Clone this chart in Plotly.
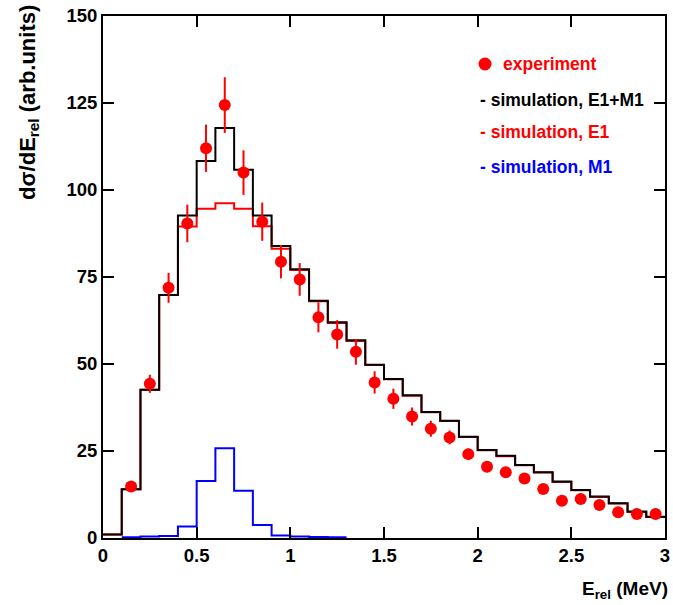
import plotly.graph_objects as go

# ---- data ----
bin_edges = [round(i * 0.1, 1) for i in range(31)]  # 0.0 .. 3.0 MeV

sim_e1m1 = [1.0, 14.0, 42.6, 69.8, 92.7, 108.3, 117.8, 105.8, 92.7, 83.9,
            77.2, 68.2, 62.0, 56.8, 49.8, 45.7, 41.0, 36.2, 33.7, 29.1,
            25.3, 23.6, 21.0, 18.9, 16.2, 13.8, 11.9, 10.0, 7.6, 6.1]
sim_e1 = [1.0, 14.0, 42.6, 69.8, 89.5, 94.6, 96.2, 94.6, 89.6, 83.1,
          77.0, 68.0, 61.8, 56.6, 49.7, 45.6, 40.9, 36.1, 33.6, 29.0,
          25.2, 23.5, 20.9, 18.8, 16.1, 13.7, 11.8, 9.9, 7.5, 6.0]
m1_edges = [0.1, 0.2, 0.3, 0.4, 0.5, 0.6, 0.7, 0.8, 0.9, 1.0, 1.1, 1.2, 1.3]
sim_m1 = [0.2, 0.4, 0.6, 3.3, 16.4, 25.8, 13.6, 3.7, 0.7, 0.4, 0.3, 0.2]

exp_x = [0.15, 0.25, 0.35, 0.45, 0.55, 0.65, 0.75, 0.85, 0.95, 1.05,
         1.15, 1.25, 1.35, 1.45, 1.55, 1.65, 1.75, 1.85, 1.95, 2.05,
         2.15, 2.25, 2.35, 2.45, 2.55, 2.65, 2.75, 2.85, 2.95]
exp_y = [14.8, 44.3, 71.9, 90.4, 112.0, 124.4, 105.0, 90.9, 79.4, 74.3,
         63.4, 58.5, 53.5, 44.7, 40.0, 34.9, 31.4, 28.9, 24.1, 20.5,
         18.9, 17.1, 14.1, 10.7, 11.2, 9.5, 7.4, 6.9, 6.9]
exp_err = [1.5, 2.6, 4.3, 5.4, 6.8, 8.0, 6.4, 5.5, 4.8, 4.7,
           4.3, 4.1, 3.7, 3.2, 2.9, 2.6, 2.3, 2.0, 1.6, 1.4,
           1.3, 1.2, 1.0, 0.9, 0.9, 0.8, 0.7, 0.6, 0.6]

x_ticks = [0, 0.5, 1, 1.5, 2, 2.5, 3]
x_tick_text = ["0", "0.5", "1", "1.5", "2", "2.5", "3"]
y_ticks = [0, 25, 50, 75, 100, 125, 150]

legend_labels = ["experiment", "- simulation, E1+M1", "- simulation, E1", "- simulation, M1"]

FONT = "Liberation Sans, Arial, sans-serif"
RED = "#ff0000"
BLUE = "#0000ff"


def step(edges, vals):
    return list(edges), list(vals) + [vals[-1]]


fig = go.Figure()

xs, ys = step(bin_edges, sim_e1)
fig.add_trace(go.Scatter(x=xs, y=ys, mode="lines", line=dict(color=RED, width=2, shape="hv"),
                         showlegend=False, hoverinfo="skip"))
xs, ys = step(m1_edges, sim_m1)
fig.add_trace(go.Scatter(x=xs, y=ys, mode="lines", line=dict(color=BLUE, width=2, shape="hv"),
                         showlegend=False, hoverinfo="skip"))
xs, ys = step(bin_edges, sim_e1m1)
fig.add_trace(go.Scatter(x=xs, y=ys, mode="lines", line=dict(color="black", width=2, shape="hv"),
                         showlegend=False, hoverinfo="skip"))
fig.add_trace(go.Scatter(x=exp_x, y=exp_y, mode="markers",
                         marker=dict(color=RED, size=12, line=dict(width=0)),
                         error_y=dict(type="data", array=exp_err, color=RED, thickness=2, width=0),
                         showlegend=False))

axis_common = dict(showgrid=False, zeroline=False, showline=True, linecolor="black", linewidth=2,
                   mirror="allticks", ticks="inside", ticklen=11, tickwidth=2, tickcolor="black",
                   ticklabeloverflow="allow", automargin=False,
                   tickfont=dict(family=FONT, size=18.5, color="black", weight="bold"))

fig.update_xaxes(range=[0, 3], tickvals=x_ticks, ticktext=x_tick_text, **axis_common)
fig.update_yaxes(range=[0, 150], tickvals=y_ticks, **axis_common)

# Axis titles as annotations (positioned like the original)
fig.add_annotation(text="<b>dσ/dE<sub>rel</sub> (arb.units)</b>", xref="paper", yref="paper",
                   x=-0.133, y=0.834, xanchor="center", yanchor="middle", textangle=-90,
                   showarrow=False, font=dict(family=FONT, size=22, color="black"))
fig.add_annotation(text="<b>E<sub>rel</sub> (MeV)</b>", xref="paper", yref="paper",
                   x=1.009, y=-0.10, xanchor="right", yanchor="middle",
                   showarrow=False, font=dict(family=FONT, size=19, color="black"))

# Legend (text annotations)
leg_colors = [RED, "black", RED, BLUE]
leg_x = [0.709, 0.668, 0.668, 0.668]
leg_y = [0.908, 0.840, 0.778, 0.711]
for lab, col, lx, ly in zip(legend_labels, leg_colors, leg_x, leg_y):
    fig.add_annotation(text="<b>" + lab + "</b>", xref="paper", yref="paper", x=lx, y=ly,
                       xanchor="left", yanchor="middle", showarrow=False,
                       font=dict(family=FONT, size=17.5, color=col))
fig.add_shape(type="circle", xref="paper", yref="paper", xsizemode="pixel", ysizemode="pixel",
              xanchor=0.6797, yanchor=0.908, x0=-6.5, x1=6.5, y0=-6.5, y1=6.5,
              fillcolor=RED, line=dict(width=0))

fig.update_layout(width=673, height=605, margin=dict(l=103, r=8, t=16, b=67, autoexpand=False),
                  paper_bgcolor="white", plot_bgcolor="white", showlegend=False)

# remove the page's default body margin so the figure fills the window exactly
fig.write_html("out.html", config={"displayModeBar": False},
               post_script="document.body.style.margin='0';")
